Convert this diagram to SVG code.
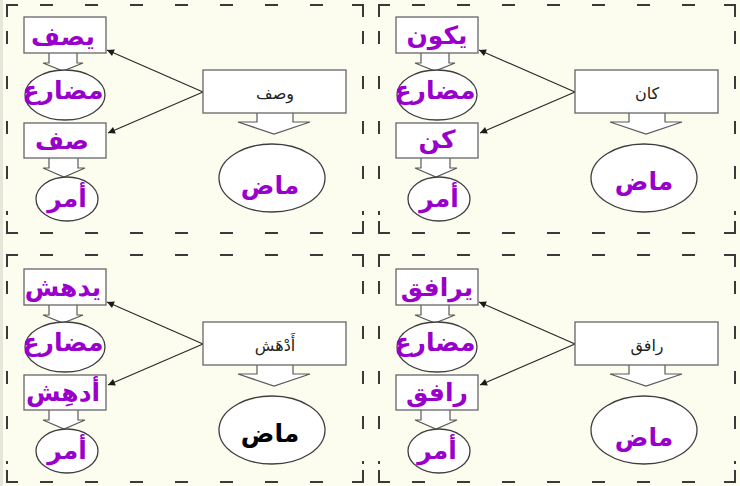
<svg xmlns="http://www.w3.org/2000/svg" width="740" height="486" viewBox="0 0 740 486">
<style>
.frame{fill:none;stroke:#3a3a3a;stroke-width:2}
.dash{fill:none;stroke:#3a3a3a;stroke-width:2;stroke-dasharray:13 32}
.box{fill:#ffffff;stroke:#666666;stroke-width:1.3}
.ell{fill:#ffffff;stroke:#3f3f3f;stroke-width:1.3}
.harrow{fill:#ffffff;stroke:#5a5a5a;stroke-width:1.2;stroke-linejoin:miter}
.conn{fill:none;stroke:#2a2a2a;stroke-width:1.2}
.big{font-family:"DejaVu Sans",sans-serif;font-weight:bold;font-size:25px;fill:#9a00cc;text-anchor:middle}
.blk{fill:#000000}
.small{font-family:"DejaVu Sans",sans-serif;font-size:16px;fill:#222222;text-anchor:middle}
</style>
<defs>
<marker id="ah" viewBox="0 0 10 10" refX="10" refY="5" markerWidth="9" markerHeight="7" markerUnits="userSpaceOnUse" orient="auto">
<path d="M0,0 L10,5 L0,10 Z" fill="#1a1a1a"/>
</marker>
</defs>
<rect x="0" y="0" width="740" height="486" fill="#fcfcef"/>
<rect x="0" y="0" width="3" height="486" fill="#e6e6da"/>

<!-- panel frames -->
<g id="frames">
<g id="frame-tl">
<path class="frame" d="M7,17 L7,5 L18,5 M352,5 L363,5 L363,17 M363,221 L363,233 L352,233 M18,233 L7,233 L7,221"/>
<path class="dash" d="M40,5 L330,5 M40,233 L330,233 M7,31 L7,215 M363,31 L363,215"/>
</g>
<g id="frame-tr" transform="translate(372,0)">
<path class="frame" d="M7,17 L7,5 L18,5 M352,5 L363,5 L363,17 M363,221 L363,233 L352,233 M18,233 L7,233 L7,221"/>
<path class="dash" d="M40,5 L330,5 M40,233 L330,233 M7,31 L7,215 M363,31 L363,215"/>
</g>
<g id="frame-bl" transform="translate(0,250)">
<path class="frame" d="M7,17 L7,5 L18,5 M352,5 L363,5 L363,17 M363,220 L363,232 L352,232 M18,232 L7,232 L7,220"/>
<path class="dash" d="M40,5 L330,5 M40,232 L330,232 M7,31 L7,214 M363,31 L363,214"/>
</g>
<g id="frame-br" transform="translate(372,250)">
<path class="frame" d="M7,17 L7,5 L18,5 M352,5 L363,5 L363,17 M363,220 L363,232 L352,232 M18,232 L7,232 L7,220"/>
<path class="dash" d="M40,5 L330,5 M40,232 L330,232 M7,31 L7,214 M363,31 L363,214"/>
</g>
</g>

<!-- connectors -->
<g id="connectors">
<g transform="translate(0,0)">
<path class="harrow" d="M49,53 L49,63 L43,63 L63,71 L83,63 L77,63 L77,53"/>
<path class="harrow" d="M49,158 L49,168 L43,168 L64,177 L85,168 L78,168 L78,158"/>
<path class="harrow" d="M257,113 L257,122 L238,122 L274,134 L310,122 L293,122 L293,113"/>
<path class="conn" marker-end="url(#ah)" d="M203,92 L107,50"/>
<path class="conn" marker-end="url(#ah)" d="M203,92 L108,133"/>
</g>
<g transform="translate(372,0)">
<path class="harrow" d="M49,53 L49,63 L43,63 L63,71 L83,63 L77,63 L77,53"/>
<path class="harrow" d="M49,158 L49,168 L43,168 L64,177 L85,168 L78,168 L78,158"/>
<path class="harrow" d="M257,113 L257,122 L238,122 L274,134 L310,122 L293,122 L293,113"/>
<path class="conn" marker-end="url(#ah)" d="M203,92 L107,50"/>
<path class="conn" marker-end="url(#ah)" d="M203,92 L108,133"/>
</g>
<g transform="translate(0,252)">
<path class="harrow" d="M49,53 L49,63 L43,63 L63,71 L83,63 L77,63 L77,53"/>
<path class="harrow" d="M49,158 L49,168 L43,168 L64,177 L85,168 L78,168 L78,158"/>
<path class="harrow" d="M257,113 L257,122 L238,122 L274,134 L310,122 L293,122 L293,113"/>
<path class="conn" marker-end="url(#ah)" d="M203,92 L107,50"/>
<path class="conn" marker-end="url(#ah)" d="M203,92 L108,133"/>
</g>
<g transform="translate(372,252)">
<path class="harrow" d="M49,53 L49,63 L43,63 L63,71 L83,63 L77,63 L77,53"/>
<path class="harrow" d="M49,158 L49,168 L43,168 L64,177 L85,168 L78,168 L78,158"/>
<path class="harrow" d="M257,113 L257,122 L238,122 L274,134 L310,122 L293,122 L293,113"/>
<path class="conn" marker-end="url(#ah)" d="M203,92 L107,50"/>
<path class="conn" marker-end="url(#ah)" d="M203,92 L108,133"/>
</g>
</g>

<!-- panel 1: وصف -->
<g id="panel-wasf">
<g id="wasf-present"><rect class="box" x="24" y="17" width="82" height="36"/><text class="big" x="63" y="45">يصف</text></g>
<g id="wasf-mudari"><ellipse class="ell" cx="65" cy="95" rx="40" ry="25"/><text class="big" x="63" y="99">مضارع</text></g>
<g id="wasf-imp"><rect class="box" x="24" y="123" width="82" height="35"/><text class="big" x="62" y="149">صف</text></g>
<g id="wasf-amr"><ellipse class="ell" cx="67" cy="199" rx="31" ry="22"/><text class="big" x="67" y="207">أمر</text></g>
<g id="wasf-verb"><rect class="box" x="203" y="70" width="143" height="43"/><text class="small" x="275" y="99">وصف</text></g>
<g id="wasf-madi"><ellipse class="ell" cx="272" cy="178" rx="53" ry="34"/><text class="big" x="270" y="194">ماض</text></g>
</g>

<!-- panel 2: كان -->
<g id="panel-kana" transform="translate(372,0)">
<g id="kana-present"><rect class="box" x="24" y="17" width="82" height="36"/><text class="big" x="65" y="44">يكون</text></g>
<g id="kana-mudari"><ellipse class="ell" cx="65" cy="95" rx="40" ry="25"/><text class="big" x="63" y="99">مضارع</text></g>
<g id="kana-imp"><rect class="box" x="24" y="123" width="82" height="35"/><text class="big" x="65" y="148">كن</text></g>
<g id="kana-amr"><ellipse class="ell" cx="67" cy="199" rx="31" ry="22"/><text class="big" x="67" y="207">أمر</text></g>
<g id="kana-verb"><rect class="box" x="203" y="70" width="143" height="43"/><text class="small" x="275" y="99">كان</text></g>
<g id="kana-madi"><ellipse class="ell" cx="272" cy="178" rx="53" ry="34"/><text class="big" x="272" y="190">ماض</text></g>
</g>

<!-- panel 3: أدهش -->
<g id="panel-adhasha" transform="translate(0,252)">
<g id="adhasha-present"><rect class="box" x="24" y="17" width="82" height="36"/><text class="big" x="63" y="44">يدهش</text></g>
<g id="adhasha-mudari"><ellipse class="ell" cx="65" cy="95" rx="40" ry="25"/><text class="big" x="63" y="99">مضارع</text></g>
<g id="adhasha-imp"><rect class="box" x="24" y="123" width="82" height="35"/><text class="big" x="63" y="149">أدهِش</text></g>
<g id="adhasha-amr"><ellipse class="ell" cx="67" cy="199" rx="31" ry="22"/><text class="big" x="67" y="207">أمر</text></g>
<g id="adhasha-verb"><rect class="box" x="203" y="70" width="143" height="43"/><text class="small" x="275" y="99">أَدْهَش</text></g>
<g id="adhasha-madi"><ellipse class="ell" cx="272" cy="178" rx="53" ry="34"/><text class="big blk" x="270" y="190">ماض</text></g>
</g>

<!-- panel 4: رافق -->
<g id="panel-rafaqa" transform="translate(372,252)">
<g id="rafaqa-present"><rect class="box" x="24" y="17" width="82" height="36"/><text class="big" x="65" y="44">يرافق</text></g>
<g id="rafaqa-mudari"><ellipse class="ell" cx="65" cy="95" rx="40" ry="25"/><text class="big" x="63" y="99">مضارع</text></g>
<g id="rafaqa-imp"><rect class="box" x="24" y="123" width="82" height="35"/><text class="big" x="65" y="149">رافق</text></g>
<g id="rafaqa-amr"><ellipse class="ell" cx="67" cy="199" rx="31" ry="22"/><text class="big" x="65" y="207">أمر</text></g>
<g id="rafaqa-verb"><rect class="box" x="203" y="70" width="143" height="43"/><text class="small" x="275" y="99">رافق</text></g>
<g id="rafaqa-madi"><ellipse class="ell" cx="272" cy="178" rx="53" ry="34"/><text class="big" x="272" y="194">ماض</text></g>
</g>
</svg>
